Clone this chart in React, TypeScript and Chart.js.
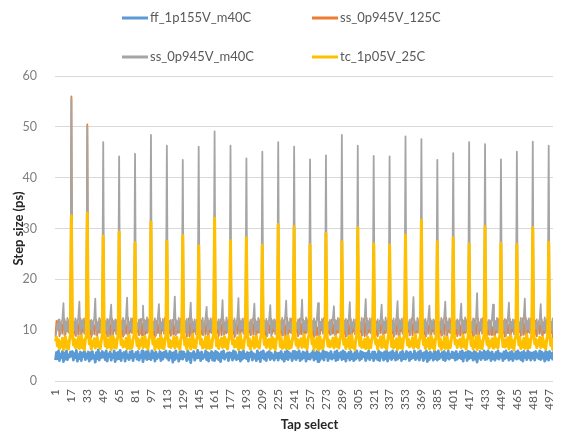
import React, { useEffect, useRef } from "react";
import { Chart, registerables } from "chart.js";

Chart.register(...registerables);

// Categories: tap indices 1..512
const TAPS: string[] = Array.from({ length: 512 }, (_, i) => String(i + 1));

const TICK_LABELS = [
  "1", "17", "33", "49", "65", "81", "97", "113", "129", "145", "161", "177", "193", "209", "225", "241",
  "257", "273", "289", "305", "321", "337", "353", "369", "385", "401", "417", "433", "449", "465", "481", "497",
];

const SERIES_NAMES = ["ff_1p155V_m40C", "ss_0p945V_125C", "ss_0p945V_m40C", "tc_1p05V_25C"];
const SERIES_COLORS = ["#5B9BD5", "#ED7D31", "#A5A5A5", "#FFC000"];

const FF_1P155V_M40C = [
  4.1,5.6,4.4,5.9,4.0,5.3,4.6,5.8,3.8,5.5,4.3,5.9,4.2,5.1,4.7,5.7,
  4.9,5.8,4.1,5.4,4.6,6.0,3.9,5.2,4.4,5.7,4.0,5.5,4.8,5.9,4.2,5.3,
  4.5,5.7,3.9,5.6,4.3,5.8,4.5,5.0,3.7,5.6,4.4,6.1,4.1,5.4,4.6,5.8,
  4.7,5.5,4.2,5.9,3.9,5.3,4.8,5.7,4.1,5.2,4.6,5.9,3.8,5.5,4.3,5.6,
  4.4,6.0,4.0,5.4,4.7,5.6,3.9,5.8,4.5,5.1,4.2,5.7,4.6,5.9,4.0,5.2,
  4.8,5.6,4.3,5.8,4.1,5.0,4.6,5.9,3.8,5.4,4.5,5.7,4.2,6.0,4.4,5.3,
  4.2,5.9,4.6,5.5,3.9,5.7,4.4,5.2,4.7,5.8,4.0,5.5,4.3,5.6,4.8,5.9,
  4.5,5.3,4.1,5.8,4.6,5.5,3.7,5.6,4.2,5.9,4.5,5.1,3.9,5.7,4.4,5.8,
  4.3,5.7,4.8,5.2,4.0,5.9,4.3,5.5,3.6,5.4,4.7,5.8,4.1,5.3,4.5,6.0,
  4.6,5.5,4.0,5.7,4.4,5.1,4.7,5.9,4.2,5.6,3.9,5.4,4.6,5.8,4.1,5.5,
  4.0,5.8,4.5,5.6,4.2,5.3,3.8,5.7,4.6,5.9,4.3,5.2,4.7,5.5,4.0,5.6,
  4.7,5.4,4.1,5.9,4.5,5.7,4.2,5.0,4.4,5.8,3.9,5.6,4.3,5.9,4.6,5.3,
  4.4,5.6,3.9,5.5,4.8,5.8,4.1,5.4,4.5,5.2,4.0,5.9,4.4,5.5,3.8,5.7,
  4.6,5.9,4.3,5.3,4.0,5.6,4.7,5.8,4.2,5.5,4.5,5.1,4.1,5.7,4.6,5.4,
  4.1,5.5,4.6,5.8,4.3,5.2,3.9,5.7,4.4,5.9,4.2,5.6,4.7,5.3,4.0,5.8,
  4.5,5.8,4.2,5.6,4.6,5.9,4.0,5.3,4.3,5.7,4.6,5.5,3.9,5.8,4.4,5.2,
  4.3,5.4,4.7,5.9,4.1,5.5,4.4,5.8,3.8,5.6,4.2,5.3,4.5,5.9,4.1,5.7,
  4.8,5.6,4.0,5.4,4.5,5.8,4.3,5.1,4.6,5.7,4.0,5.9,4.2,5.4,4.7,5.6,
  4.2,5.9,4.4,5.7,3.9,5.3,4.6,5.6,4.1,5.8,4.4,5.2,4.0,5.6,4.3,5.9,
  4.6,5.3,4.1,5.8,4.4,5.6,4.8,5.4,4.0,5.5,4.5,5.9,4.2,5.2,4.6,5.7,
  4.0,5.7,4.5,5.2,4.2,5.9,4.0,5.6,4.7,5.4,4.1,5.7,4.4,5.9,3.9,5.5,
  4.5,5.6,4.2,5.9,4.6,5.4,4.1,5.8,4.3,5.1,4.6,5.6,4.0,5.8,4.4,5.3,
  4.3,5.8,4.7,5.5,4.0,5.7,4.4,5.2,4.6,5.9,4.2,5.4,4.5,5.7,4.1,5.9,
  4.7,5.4,4.0,5.6,4.5,5.9,3.8,5.5,4.2,5.7,4.6,5.3,4.1,5.9,4.4,5.6,
  4.1,5.9,4.4,5.3,4.7,5.6,4.2,5.8,4.0,5.4,4.5,5.9,4.3,5.2,4.6,5.7,
  4.6,5.5,4.1,5.8,4.3,5.2,4.6,5.7,4.4,5.9,3.9,5.5,4.7,5.6,4.0,5.8,
  4.4,5.7,4.6,5.4,4.1,5.8,4.3,5.6,3.7,5.3,4.5,5.8,4.2,5.5,4.6,5.9,
  4.2,5.6,4.3,5.9,4.6,5.5,4.0,5.7,4.4,5.2,4.1,5.6,4.5,5.9,4.3,5.4,
  4.7,5.3,4.0,5.7,4.4,5.9,4.6,5.4,4.1,5.6,4.4,5.8,4.0,5.3,4.5,5.7,
  4.3,5.9,4.5,5.5,4.2,5.6,3.9,5.8,4.6,5.4,4.2,5.9,4.6,5.6,4.1,5.5,
  4.5,5.6,4.1,5.8,4.7,5.3,4.4,5.9,4.2,5.7,4.5,5.4,3.9,5.8,4.3,5.6,
  4.1,5.8,4.6,5.4,4.3,5.7,4.0,5.5,4.5,5.9,4.2,5.6,4.6,5.3,4.4,5.8,
];

const SS_0P945V_125C = [
  9.0,11.8,10.2,12.0,8.8,10.5,11.7,9.3,10.9,12.2,9.1,11.4,9.8,10.7,12.1,9.6,
  56.0,10.7,9.3,11.5,8.9,10.2,12.0,9.1,10.8,12.3,8.8,11.1,9.7,10.6,12.4,11.9,
  50.5,10.9,9.1,11.8,8.6,10.5,11.8,9.2,10.5,12.0,9.0,11.3,9.5,11.0,12.2,9.1,
  25.2,11.0,9.4,11.6,8.8,10.3,12.1,8.9,10.7,12.2,9.2,11.0,9.8,10.8,12.0,9.0,
  26.0,10.6,9.2,11.9,8.7,10.6,11.9,9.3,10.4,12.4,8.9,11.4,9.6,10.5,12.3,8.8,
  24.1,10.8,9.5,11.4,9.0,10.1,12.2,9.0,10.9,12.1,9.1,11.2,9.4,11.1,12.1,9.2,
  27.8,11.1,9.0,11.7,8.6,10.4,11.8,9.4,10.6,12.3,8.8,11.5,9.9,10.7,12.4,9.0,
  24.3,10.5,9.3,11.8,8.9,10.7,12.0,9.1,10.3,12.0,9.3,11.1,9.5,10.9,12.2,8.9,
  25.4,10.9,9.6,11.5,8.7,10.2,12.3,8.8,10.8,12.2,9.0,11.3,9.7,10.6,12.0,9.1,
  23.5,10.7,9.1,11.9,9.1,10.5,11.7,9.2,10.5,12.4,8.9,11.0,9.6,11.0,12.3,9.0,
  28.6,11.0,9.4,11.6,8.8,10.8,12.1,9.0,10.7,12.1,9.2,11.4,9.4,10.8,12.1,8.8,
  24.4,10.6,9.2,11.8,8.6,10.3,11.9,9.3,10.4,12.3,9.1,11.2,9.8,10.5,12.4,9.2,
  25.0,10.8,9.5,11.4,9.0,10.6,12.2,9.1,10.9,12.0,8.8,11.5,9.5,10.9,12.2,9.0,
  23.6,11.1,9.0,11.7,8.7,10.1,11.8,9.4,10.6,12.2,9.3,11.1,9.7,10.7,12.0,8.9,
  27.5,10.5,9.3,11.9,8.9,10.4,12.0,8.9,10.3,12.4,9.0,11.3,9.6,11.1,12.3,9.1,
  27.0,10.9,9.6,11.5,8.8,10.7,12.3,9.2,10.8,12.1,8.9,11.0,9.4,10.6,12.1,9.0,
  23.7,10.7,9.1,11.8,8.6,10.2,11.7,9.0,10.5,12.3,9.2,11.4,9.9,10.8,12.4,8.8,
  25.8,11.0,9.4,11.6,9.1,10.5,12.1,9.3,10.7,12.0,9.1,11.2,9.5,10.9,12.2,9.2,
  24.2,10.6,9.2,11.9,8.7,10.8,11.9,9.1,10.4,12.2,8.8,11.5,9.7,10.5,12.0,9.0,
  26.9,10.8,9.5,11.4,8.9,10.3,12.2,8.8,10.9,12.4,9.3,11.1,9.6,11.0,12.3,8.9,
  23.9,11.1,9.0,11.7,8.8,10.6,11.8,9.4,10.6,12.1,9.0,11.3,9.4,10.7,12.1,9.1,
  23.7,10.5,9.3,11.8,8.6,10.1,12.0,9.2,10.3,12.3,8.9,11.0,9.8,10.8,12.4,9.0,
  25.5,10.9,9.6,11.5,9.0,10.4,12.3,9.0,10.8,12.0,9.2,11.4,9.5,10.6,12.2,8.8,
  28.2,10.7,9.1,11.9,8.7,10.7,11.7,9.3,10.5,12.2,9.1,11.2,9.7,11.1,12.0,9.2,
  24.3,11.0,9.4,11.6,8.9,10.2,12.1,9.1,10.7,12.4,8.8,11.5,9.6,10.9,12.3,9.0,
  25.0,10.6,9.2,11.8,8.8,10.5,11.9,8.9,10.4,12.1,9.3,11.1,9.4,10.5,12.1,8.9,
  23.9,10.8,9.5,11.4,8.6,10.8,12.2,9.2,10.9,12.3,9.0,11.3,9.9,10.7,12.4,9.1,
  27.1,11.1,9.0,11.7,9.1,10.3,11.8,9.0,10.6,12.0,8.9,11.0,9.5,11.0,12.2,9.0,
  24.0,10.5,9.3,11.9,8.7,10.6,12.0,9.4,10.3,12.2,9.2,11.4,9.7,10.8,12.0,8.8,
  23.8,10.9,9.6,11.5,8.9,10.1,12.3,9.1,10.8,12.4,9.1,11.2,9.6,10.6,12.3,9.2,
  26.9,10.7,9.1,11.8,8.8,10.4,11.7,9.3,10.5,12.1,8.8,11.5,9.4,10.9,12.1,9.0,
  24.2,11.0,9.4,11.6,8.6,10.7,12.1,8.9,10.7,12.3,9.3,11.1,9.8,11.2,12.8,13.6,
];

const SS_0P945V_M40C = [
  8.6,9.8,11.4,10.3,12.1,9.2,11.5,12.2,15.3,9.0,11.7,10.0,12.4,9.5,11.2,12.1,
  55.5,9.4,11.7,10.0,12.3,8.9,11.2,12.5,15.6,8.8,11.9,10.3,12.2,9.3,11.0,11.9,
  50.0,9.2,11.5,10.2,12.0,9.1,11.4,12.3,16.2,9.0,11.6,10.1,12.4,9.5,11.2,12.1,
  47.0,9.5,11.8,9.9,12.2,8.8,11.1,12.4,15.0,8.7,11.8,10.4,12.1,9.2,11.3,12.0,
  44.2,9.3,11.6,10.1,12.4,9.0,11.3,12.6,16.4,8.9,11.7,10.2,12.3,9.4,11.1,11.8,
  44.7,9.1,11.4,10.3,12.1,9.2,11.5,12.2,14.8,9.1,11.9,10.0,12.5,9.6,10.9,12.2,
  48.4,9.4,11.7,10.0,12.3,8.9,11.2,12.5,15.1,8.8,11.6,10.3,12.2,9.3,11.2,12.0,
  46.3,9.6,11.5,10.2,12.0,9.1,11.4,12.3,16.6,9.0,11.8,10.1,12.4,9.5,11.0,11.9,
  43.5,9.2,11.8,9.9,12.2,8.8,11.1,12.4,15.4,8.7,11.7,10.4,12.1,9.2,11.3,12.1,
  46.1,9.5,11.6,10.1,12.4,9.0,11.3,12.6,14.6,8.9,11.9,10.2,12.3,9.4,11.1,12.0,
  49.1,9.3,11.4,10.3,12.1,9.2,11.5,12.2,15.9,9.1,11.6,10.0,12.5,9.6,10.9,11.8,
  46.3,9.1,11.7,10.0,12.3,8.9,11.2,12.5,16.3,8.8,11.8,10.3,12.2,9.3,11.2,12.2,
  43.8,9.4,11.5,10.2,12.0,9.1,11.4,12.3,15.2,9.0,11.7,10.1,12.4,9.5,11.0,12.0,
  45.1,9.6,11.8,9.9,12.2,8.8,11.1,12.4,14.9,8.7,11.9,10.4,12.1,9.2,11.3,11.9,
  47.0,9.2,11.6,10.1,12.4,9.0,11.3,12.6,15.8,8.9,11.6,10.2,12.3,9.4,11.1,12.1,
  46.1,9.5,11.4,10.3,12.1,9.2,11.5,12.2,16.0,9.1,11.8,10.0,12.5,9.6,10.9,12.0,
  43.6,9.3,11.7,10.0,12.3,8.9,11.2,12.5,15.3,8.8,11.7,10.3,12.2,9.3,11.2,11.8,
  44.4,9.1,11.5,10.2,12.0,9.1,11.4,12.3,14.7,9.0,11.9,10.1,12.4,9.5,11.0,12.2,
  48.4,9.4,11.8,9.9,12.2,8.8,11.1,12.4,15.5,8.7,11.6,10.4,12.1,9.2,11.3,12.0,
  46.3,9.6,11.6,10.1,12.4,9.0,11.3,12.6,16.1,8.9,11.8,10.2,12.3,9.4,11.1,11.9,
  44.3,9.2,11.4,10.3,12.1,9.2,11.5,12.2,15.0,9.1,11.7,10.0,12.5,9.6,10.9,12.1,
  44.2,9.5,11.7,10.0,12.3,8.9,11.2,12.5,15.7,8.8,11.9,10.3,12.2,9.3,11.2,12.0,
  48.1,9.3,11.5,10.2,12.0,9.1,11.4,12.3,16.5,9.0,11.6,10.1,12.4,9.5,11.0,11.8,
  47.6,9.1,11.8,9.9,12.2,8.8,11.1,12.4,14.8,8.7,11.8,10.4,12.1,9.2,11.3,12.2,
  43.5,9.4,11.6,10.1,12.4,9.0,11.3,12.6,15.6,8.9,11.7,10.2,12.3,9.4,11.1,12.0,
  44.8,9.6,11.4,10.3,12.1,9.2,11.5,12.2,15.2,9.1,11.9,10.0,12.5,9.6,10.9,11.9,
  47.0,9.2,11.7,10.0,12.3,8.9,11.2,12.5,17.3,8.8,11.6,10.3,12.2,9.3,11.2,12.1,
  46.6,9.5,11.5,10.2,12.0,9.1,11.4,12.3,15.0,9.0,11.8,10.1,12.4,9.5,11.0,12.0,
  43.6,9.3,11.8,9.9,12.2,8.8,11.1,12.4,15.4,8.7,11.7,10.4,12.1,9.2,11.3,11.8,
  45.1,9.1,11.6,10.1,12.4,9.0,11.3,12.6,16.2,8.9,11.9,10.2,12.3,9.4,11.1,12.2,
  47.1,9.4,11.4,10.3,12.1,9.2,11.5,12.2,15.1,9.1,11.6,10.0,12.5,9.6,10.9,12.0,
  46.3,9.6,11.7,10.0,12.3,8.9,11.2,12.5,14.6,8.8,11.8,10.3,12.2,9.3,11.2,11.9,
];

const TC_1P05V_25C = [
  7.8,8.6,6.9,8.1,6.4,7.7,6.8,8.4,6.2,7.5,8.7,6.6,7.8,6.3,8.0,9.1,
  32.5,9.3,7.1,8.2,6.6,7.9,6.7,8.6,6.4,7.5,8.9,6.5,8.0,6.2,8.2,8.8,
  33.0,9.5,7.3,8.4,6.3,7.7,7.0,8.3,6.5,7.8,8.6,6.8,7.7,6.4,7.9,9.0,
  28.5,9.2,6.9,8.5,6.5,8.0,6.8,8.7,6.2,7.4,8.8,6.6,8.1,6.5,8.0,9.2,
  29.3,9.6,7.2,8.1,6.7,7.6,6.9,8.4,6.3,7.7,9.0,6.4,7.8,6.6,8.3,8.9,
  27.2,9.1,7.0,8.3,6.4,7.9,7.1,8.5,6.6,7.5,8.7,6.7,7.9,6.3,8.1,9.1,
  31.3,9.4,7.3,8.6,6.2,7.8,6.8,8.2,6.4,7.9,8.9,6.5,8.2,6.4,7.8,9.0,
  27.5,9.3,6.8,8.0,6.6,7.7,7.0,8.6,6.5,7.6,8.6,6.8,7.7,6.2,8.2,8.8,
  28.6,9.5,7.1,8.4,6.3,8.1,6.9,8.3,6.3,7.8,9.1,6.6,8.0,6.5,8.0,9.2,
  26.6,9.2,7.2,8.2,6.5,7.6,6.7,8.7,6.4,7.4,8.8,6.4,7.8,6.6,8.3,9.0,
  32.0,9.6,6.9,8.5,6.4,7.9,7.1,8.4,6.6,7.7,8.7,6.7,8.1,6.3,7.9,8.9,
  27.6,9.3,7.3,8.1,6.7,7.8,6.8,8.5,6.2,7.6,9.0,6.5,7.9,6.4,8.1,9.1,
  28.2,9.1,7.0,8.3,6.3,7.7,7.0,8.6,6.5,7.9,8.8,6.8,7.7,6.5,8.2,9.3,
  26.7,9.5,7.2,8.6,6.6,8.0,6.9,8.2,6.3,7.5,8.6,6.6,8.2,6.2,8.0,8.8,
  30.8,9.4,6.8,8.4,6.4,7.6,6.7,8.7,6.4,7.8,8.9,6.4,7.8,6.6,7.8,9.0,
  30.4,9.2,7.1,8.2,6.5,7.9,7.1,8.3,6.6,7.6,9.1,6.7,8.0,6.3,8.3,9.2,
  26.8,9.6,7.3,8.5,6.2,7.8,6.8,8.5,6.2,7.7,8.7,6.5,7.9,6.4,8.1,8.9,
  29.0,9.3,6.9,8.0,6.7,7.7,7.0,8.4,6.5,7.4,8.8,6.8,8.1,6.5,7.9,9.1,
  27.4,9.5,7.2,8.3,6.4,8.1,6.9,8.6,6.3,7.9,9.0,6.6,7.7,6.2,8.2,9.0,
  30.2,9.1,7.0,8.6,6.6,7.6,6.7,8.2,6.4,7.5,8.6,6.4,8.0,6.6,8.0,8.8,
  27.0,9.4,7.3,8.1,6.3,7.9,7.1,8.7,6.6,7.8,8.9,6.7,7.8,6.3,7.8,9.2,
  26.8,9.2,6.8,8.4,6.5,7.8,6.8,8.3,6.2,7.6,8.7,6.5,8.2,6.4,8.3,9.1,
  28.7,9.6,7.1,8.2,6.7,7.7,7.0,8.5,6.5,7.7,9.1,6.8,7.9,6.5,8.1,8.9,
  31.6,9.3,7.2,8.5,6.4,8.0,6.9,8.4,6.3,7.4,8.8,6.6,8.1,6.2,7.9,9.0,
  27.4,9.5,6.9,8.3,6.2,7.6,6.7,8.6,6.4,7.9,8.6,6.4,7.7,6.6,8.2,9.2,
  28.2,9.1,7.3,8.0,6.6,7.9,7.1,8.2,6.6,7.5,9.0,6.7,8.0,6.3,8.0,8.8,
  27.0,9.4,7.0,8.6,6.3,7.8,6.8,8.7,6.2,7.8,8.9,6.5,7.8,6.4,7.8,9.1,
  30.4,9.2,7.2,8.4,6.5,7.7,7.0,8.3,6.5,7.6,8.7,6.8,8.2,6.5,8.3,9.0,
  27.1,9.6,6.8,8.1,6.7,8.1,6.9,8.5,6.3,7.7,8.8,6.6,7.9,6.2,8.1,8.9,
  26.9,9.3,7.1,8.5,6.4,7.6,6.7,8.4,6.4,7.4,9.1,6.4,8.1,6.6,7.9,9.2,
  30.2,9.5,7.3,8.2,6.6,7.9,7.1,8.6,6.6,7.9,8.6,6.7,7.7,6.3,8.2,9.0,
  27.3,9.1,7.0,8.3,6.2,7.8,6.8,8.2,6.2,7.5,8.9,6.5,8.0,6.4,8.0,8.8,
];

const SERIES_DATA = [FF_1P155V_M40C, SS_0P945V_125C, SS_0P945V_M40C, TC_1P05V_25C];

const FONT = "Lato, 'Open Sans', sans-serif";
const TICK_SET = new Set(TICK_LABELS);

// legend slots (canvas coords): [lineStartX, centerY]
const LEGEND_SLOTS = [
  [114, 10],
  [304, 10],
  [114, 49],
  [304, 49],
];
const LINE_WIDTHS = [2.8, 1.8, 1.8, 3];

const legendPlugin = {
  id: "twoColumnLegend",
  afterDraw(chart: any) {
    const ctx = chart.ctx;
    ctx.save();
    ctx.font = `13px ${FONT}`;
    ctx.textBaseline = "middle";
    ctx.textAlign = "left";
    SERIES_NAMES.forEach((name, i) => {
      const [x, y] = LEGEND_SLOTS[i];
      ctx.strokeStyle = SERIES_COLORS[i];
      ctx.lineWidth = 3;
      ctx.lineCap = "butt";
      ctx.beginPath();
      ctx.moveTo(x, y);
      ctx.lineTo(x + 26, y);
      ctx.stroke();
      ctx.fillStyle = "#595959";
      ctx.fillText(name, x + 28, y);
    });
    ctx.restore();
  },
};

export default function App() {
  const ref = useRef<HTMLCanvasElement | null>(null);

  useEffect(() => {
    if (!ref.current) return;
    const orders = [3, 2, 1, 0];
    const chart = new Chart(ref.current, {
      type: "line",
      data: {
        labels: TAPS,
        datasets: SERIES_NAMES.map((name, i) => ({
          label: name,
          data: SERIES_DATA[i],
          borderColor: SERIES_COLORS[i],
          backgroundColor: SERIES_COLORS[i],
          borderWidth: LINE_WIDTHS[i],
          pointRadius: 0,
          tension: 0,
          fill: false,
          borderJoinStyle: "round" as const,
          order: orders[i],
        })),
      },
      options: {
        animation: false,
        responsive: false,
        devicePixelRatio: 1,
        layout: { padding: { top: 68, right: 0, left: 0, bottom: 0 } },
        plugins: {
          legend: { display: false },
          tooltip: { enabled: false },
        },
        scales: {
          x: {
            type: "category",
            offset: true,
            grid: { display: false, drawTicks: false },
            border: { display: false },
            ticks: {
              autoSkip: false,
              minRotation: 90,
              maxRotation: 90,
              padding: 8,
              color: "#595959",
              font: { family: FONT, size: 12 },
              callback: (_v: any, index: number) => (TICK_SET.has(TAPS[index]) ? TAPS[index] : ""),
            },
            title: {
              display: true,
              text: "Tap select",
              color: "#262626",
              font: { family: FONT, size: 13, weight: "bold" },
              padding: { top: 0, bottom: 1 },
            },
            afterFit: (scale: any) => {
              scale.height = 53;
            },
          },
          y: {
            min: 0,
            max: 60,
            grid: { color: "#D9D9D9", lineWidth: 1, drawTicks: false },
            border: { display: false },
            ticks: {
              stepSize: 10,
              padding: 18,
              color: "#7F7F7F",
              font: { family: FONT, size: 12.5 },
            },
            title: {
              display: true,
              text: "Step size (ps)",
              color: "#262626",
              font: { family: FONT, size: 13, weight: "bold" },
              padding: { top: 3, bottom: 0 },
            },
            afterFit: (scale: any) => {
              scale.width = 47;
            },
          },
        },
      },
      plugins: [legendPlugin],
    });
    return () => chart.destroy();
  }, []);

  return (
    <div style={{ width: 553, height: 426, overflow: "hidden" }}>
      <canvas ref={ref} width={578} height={426} style={{ display: "block" }} />
    </div>
  );
}
